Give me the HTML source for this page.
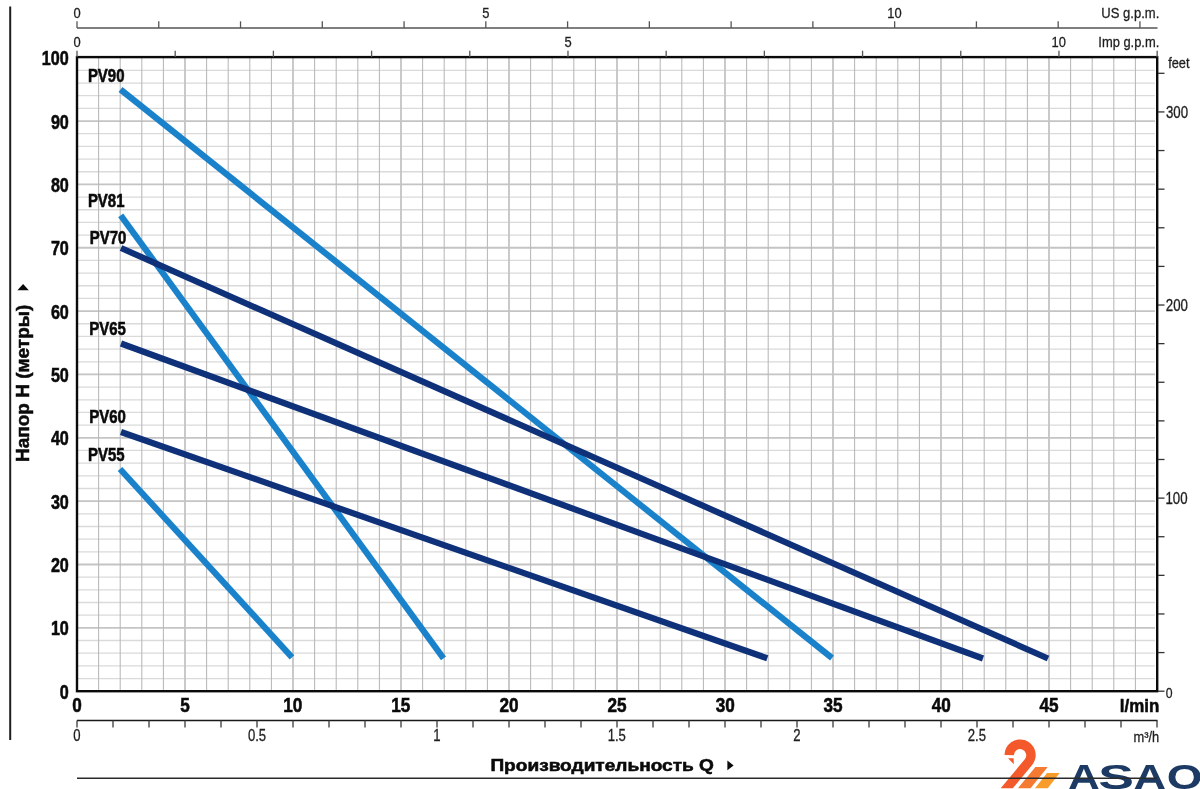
<!DOCTYPE html>
<html><head><meta charset="utf-8"><title>PV pump curves</title>
<style>html,body{margin:0;padding:0;background:#fff;width:1200px;height:789px;overflow:hidden}</style>
</head><body>
<svg width="1200" height="789" viewBox="0 0 1200 789" style="display:block;font-family:'Liberation Sans', 'DejaVu Sans', sans-serif">
<rect width="1200" height="789" fill="#fff"/>
<g><line x1="78" y1="678.53" x2="1155" y2="678.53" stroke="#dadada" stroke-width="1.3"/><line x1="78" y1="665.86" x2="1155" y2="665.86" stroke="#dadada" stroke-width="1.3"/><line x1="78" y1="653.19" x2="1155" y2="653.19" stroke="#dadada" stroke-width="1.3"/><line x1="78" y1="640.52" x2="1155" y2="640.52" stroke="#dadada" stroke-width="1.3"/><line x1="78" y1="627.85" x2="1155" y2="627.85" stroke="#c4c4c4" stroke-width="1.8"/><line x1="78" y1="615.18" x2="1155" y2="615.18" stroke="#dadada" stroke-width="1.3"/><line x1="78" y1="602.51" x2="1155" y2="602.51" stroke="#dadada" stroke-width="1.3"/><line x1="78" y1="589.84" x2="1155" y2="589.84" stroke="#dadada" stroke-width="1.3"/><line x1="78" y1="577.17" x2="1155" y2="577.17" stroke="#dadada" stroke-width="1.3"/><line x1="78" y1="564.5" x2="1155" y2="564.5" stroke="#c4c4c4" stroke-width="1.8"/><line x1="78" y1="551.83" x2="1155" y2="551.83" stroke="#dadada" stroke-width="1.3"/><line x1="78" y1="539.16" x2="1155" y2="539.16" stroke="#dadada" stroke-width="1.3"/><line x1="78" y1="526.49" x2="1155" y2="526.49" stroke="#dadada" stroke-width="1.3"/><line x1="78" y1="513.82" x2="1155" y2="513.82" stroke="#dadada" stroke-width="1.3"/><line x1="78" y1="501.15" x2="1155" y2="501.15" stroke="#c4c4c4" stroke-width="1.8"/><line x1="78" y1="488.48" x2="1155" y2="488.48" stroke="#dadada" stroke-width="1.3"/><line x1="78" y1="475.81" x2="1155" y2="475.81" stroke="#dadada" stroke-width="1.3"/><line x1="78" y1="463.14" x2="1155" y2="463.14" stroke="#dadada" stroke-width="1.3"/><line x1="78" y1="450.47" x2="1155" y2="450.47" stroke="#dadada" stroke-width="1.3"/><line x1="78" y1="437.8" x2="1155" y2="437.8" stroke="#c4c4c4" stroke-width="1.8"/><line x1="78" y1="425.13" x2="1155" y2="425.13" stroke="#dadada" stroke-width="1.3"/><line x1="78" y1="412.46" x2="1155" y2="412.46" stroke="#dadada" stroke-width="1.3"/><line x1="78" y1="399.79" x2="1155" y2="399.79" stroke="#dadada" stroke-width="1.3"/><line x1="78" y1="387.12" x2="1155" y2="387.12" stroke="#dadada" stroke-width="1.3"/><line x1="78" y1="374.45" x2="1155" y2="374.45" stroke="#c4c4c4" stroke-width="1.8"/><line x1="78" y1="361.78" x2="1155" y2="361.78" stroke="#dadada" stroke-width="1.3"/><line x1="78" y1="349.11" x2="1155" y2="349.11" stroke="#dadada" stroke-width="1.3"/><line x1="78" y1="336.44" x2="1155" y2="336.44" stroke="#dadada" stroke-width="1.3"/><line x1="78" y1="323.77" x2="1155" y2="323.77" stroke="#dadada" stroke-width="1.3"/><line x1="78" y1="311.1" x2="1155" y2="311.1" stroke="#c4c4c4" stroke-width="1.8"/><line x1="78" y1="298.43" x2="1155" y2="298.43" stroke="#dadada" stroke-width="1.3"/><line x1="78" y1="285.76" x2="1155" y2="285.76" stroke="#dadada" stroke-width="1.3"/><line x1="78" y1="273.09" x2="1155" y2="273.09" stroke="#dadada" stroke-width="1.3"/><line x1="78" y1="260.42" x2="1155" y2="260.42" stroke="#dadada" stroke-width="1.3"/><line x1="78" y1="247.75" x2="1155" y2="247.75" stroke="#c4c4c4" stroke-width="1.8"/><line x1="78" y1="235.08" x2="1155" y2="235.08" stroke="#dadada" stroke-width="1.3"/><line x1="78" y1="222.41" x2="1155" y2="222.41" stroke="#dadada" stroke-width="1.3"/><line x1="78" y1="209.74" x2="1155" y2="209.74" stroke="#dadada" stroke-width="1.3"/><line x1="78" y1="197.07" x2="1155" y2="197.07" stroke="#dadada" stroke-width="1.3"/><line x1="78" y1="184.4" x2="1155" y2="184.4" stroke="#c4c4c4" stroke-width="1.8"/><line x1="78" y1="171.73" x2="1155" y2="171.73" stroke="#dadada" stroke-width="1.3"/><line x1="78" y1="159.06" x2="1155" y2="159.06" stroke="#dadada" stroke-width="1.3"/><line x1="78" y1="146.39" x2="1155" y2="146.39" stroke="#dadada" stroke-width="1.3"/><line x1="78" y1="133.72" x2="1155" y2="133.72" stroke="#dadada" stroke-width="1.3"/><line x1="78" y1="121.05" x2="1155" y2="121.05" stroke="#c4c4c4" stroke-width="1.8"/><line x1="78" y1="108.38" x2="1155" y2="108.38" stroke="#dadada" stroke-width="1.3"/><line x1="78" y1="95.71" x2="1155" y2="95.71" stroke="#dadada" stroke-width="1.3"/><line x1="78" y1="83.04" x2="1155" y2="83.04" stroke="#dadada" stroke-width="1.3"/><line x1="78" y1="70.37" x2="1155" y2="70.37" stroke="#dadada" stroke-width="1.3"/><line x1="98.6" y1="58" x2="98.6" y2="690" stroke="#b8b8b8" stroke-width="1.05"/><line x1="120.2" y1="58" x2="120.2" y2="690" stroke="#b8b8b8" stroke-width="1.05"/><line x1="141.8" y1="58" x2="141.8" y2="690" stroke="#b8b8b8" stroke-width="1.05"/><line x1="163.4" y1="58" x2="163.4" y2="690" stroke="#b8b8b8" stroke-width="1.05"/><line x1="185" y1="58" x2="185" y2="690" stroke="#c4c4c4" stroke-width="1.8"/><line x1="206.6" y1="58" x2="206.6" y2="690" stroke="#b8b8b8" stroke-width="1.05"/><line x1="228.2" y1="58" x2="228.2" y2="690" stroke="#b8b8b8" stroke-width="1.05"/><line x1="249.8" y1="58" x2="249.8" y2="690" stroke="#b8b8b8" stroke-width="1.05"/><line x1="271.4" y1="58" x2="271.4" y2="690" stroke="#b8b8b8" stroke-width="1.05"/><line x1="293" y1="58" x2="293" y2="690" stroke="#c4c4c4" stroke-width="1.8"/><line x1="314.6" y1="58" x2="314.6" y2="690" stroke="#b8b8b8" stroke-width="1.05"/><line x1="336.2" y1="58" x2="336.2" y2="690" stroke="#b8b8b8" stroke-width="1.05"/><line x1="357.8" y1="58" x2="357.8" y2="690" stroke="#b8b8b8" stroke-width="1.05"/><line x1="379.4" y1="58" x2="379.4" y2="690" stroke="#b8b8b8" stroke-width="1.05"/><line x1="401" y1="58" x2="401" y2="690" stroke="#c4c4c4" stroke-width="1.8"/><line x1="422.6" y1="58" x2="422.6" y2="690" stroke="#b8b8b8" stroke-width="1.05"/><line x1="444.2" y1="58" x2="444.2" y2="690" stroke="#b8b8b8" stroke-width="1.05"/><line x1="465.8" y1="58" x2="465.8" y2="690" stroke="#b8b8b8" stroke-width="1.05"/><line x1="487.4" y1="58" x2="487.4" y2="690" stroke="#b8b8b8" stroke-width="1.05"/><line x1="509" y1="58" x2="509" y2="690" stroke="#c4c4c4" stroke-width="1.8"/><line x1="530.6" y1="58" x2="530.6" y2="690" stroke="#b8b8b8" stroke-width="1.05"/><line x1="552.2" y1="58" x2="552.2" y2="690" stroke="#b8b8b8" stroke-width="1.05"/><line x1="573.8" y1="58" x2="573.8" y2="690" stroke="#b8b8b8" stroke-width="1.05"/><line x1="595.4" y1="58" x2="595.4" y2="690" stroke="#b8b8b8" stroke-width="1.05"/><line x1="617" y1="58" x2="617" y2="690" stroke="#c4c4c4" stroke-width="1.8"/><line x1="638.6" y1="58" x2="638.6" y2="690" stroke="#b8b8b8" stroke-width="1.05"/><line x1="660.2" y1="58" x2="660.2" y2="690" stroke="#b8b8b8" stroke-width="1.05"/><line x1="681.8" y1="58" x2="681.8" y2="690" stroke="#b8b8b8" stroke-width="1.05"/><line x1="703.4" y1="58" x2="703.4" y2="690" stroke="#b8b8b8" stroke-width="1.05"/><line x1="725" y1="58" x2="725" y2="690" stroke="#c4c4c4" stroke-width="1.8"/><line x1="746.6" y1="58" x2="746.6" y2="690" stroke="#b8b8b8" stroke-width="1.05"/><line x1="768.2" y1="58" x2="768.2" y2="690" stroke="#b8b8b8" stroke-width="1.05"/><line x1="789.8" y1="58" x2="789.8" y2="690" stroke="#b8b8b8" stroke-width="1.05"/><line x1="811.4" y1="58" x2="811.4" y2="690" stroke="#b8b8b8" stroke-width="1.05"/><line x1="833" y1="58" x2="833" y2="690" stroke="#c4c4c4" stroke-width="1.8"/><line x1="854.6" y1="58" x2="854.6" y2="690" stroke="#b8b8b8" stroke-width="1.05"/><line x1="876.2" y1="58" x2="876.2" y2="690" stroke="#b8b8b8" stroke-width="1.05"/><line x1="897.8" y1="58" x2="897.8" y2="690" stroke="#b8b8b8" stroke-width="1.05"/><line x1="919.4" y1="58" x2="919.4" y2="690" stroke="#b8b8b8" stroke-width="1.05"/><line x1="941" y1="58" x2="941" y2="690" stroke="#c4c4c4" stroke-width="1.8"/><line x1="962.6" y1="58" x2="962.6" y2="690" stroke="#b8b8b8" stroke-width="1.05"/><line x1="984.2" y1="58" x2="984.2" y2="690" stroke="#b8b8b8" stroke-width="1.05"/><line x1="1005.8" y1="58" x2="1005.8" y2="690" stroke="#b8b8b8" stroke-width="1.05"/><line x1="1027.4" y1="58" x2="1027.4" y2="690" stroke="#b8b8b8" stroke-width="1.05"/><line x1="1049" y1="58" x2="1049" y2="690" stroke="#c4c4c4" stroke-width="1.8"/><line x1="1070.6" y1="58" x2="1070.6" y2="690" stroke="#b8b8b8" stroke-width="1.05"/><line x1="1092.2" y1="58" x2="1092.2" y2="690" stroke="#b8b8b8" stroke-width="1.05"/><line x1="1113.8" y1="58" x2="1113.8" y2="690" stroke="#b8b8b8" stroke-width="1.05"/><line x1="1135.4" y1="58" x2="1135.4" y2="690" stroke="#b8b8b8" stroke-width="1.05"/></g>
<line x1="120.5" y1="89.5" x2="832" y2="658" stroke="#1a82cb" stroke-width="6.2"/>
<line x1="120.7" y1="215.3" x2="443.5" y2="658.3" stroke="#1a82cb" stroke-width="6.2"/>
<line x1="120" y1="469" x2="292" y2="657.3" stroke="#1a82cb" stroke-width="6.2"/>
<line x1="121" y1="248" x2="1048" y2="658.5" stroke="#0e317a" stroke-width="6.2"/>
<line x1="121" y1="343.5" x2="983" y2="658.5" stroke="#0e317a" stroke-width="6.2"/>
<line x1="121" y1="432" x2="767.3" y2="658.3" stroke="#0e317a" stroke-width="6.2"/>
<rect x="77" y="57.1" width="1080.2" height="634.1" fill="none" stroke="#0a0a0a" stroke-width="2.4"/>
<g><line x1="77" y1="28" x2="1157.5" y2="28" stroke="#555" stroke-width="1.4"/><line x1="77" y1="21.3" x2="77" y2="28" stroke="#555" stroke-width="1.3"/><line x1="158.76" y1="21.3" x2="158.76" y2="28" stroke="#555" stroke-width="1.3"/><line x1="240.53" y1="21.3" x2="240.53" y2="28" stroke="#555" stroke-width="1.3"/><line x1="322.29" y1="21.3" x2="322.29" y2="28" stroke="#555" stroke-width="1.3"/><line x1="404.06" y1="21.3" x2="404.06" y2="28" stroke="#555" stroke-width="1.3"/><line x1="485.82" y1="21.3" x2="485.82" y2="28" stroke="#555" stroke-width="1.3"/><line x1="567.59" y1="21.3" x2="567.59" y2="28" stroke="#555" stroke-width="1.3"/><line x1="649.35" y1="21.3" x2="649.35" y2="28" stroke="#555" stroke-width="1.3"/><line x1="731.12" y1="21.3" x2="731.12" y2="28" stroke="#555" stroke-width="1.3"/><line x1="812.88" y1="21.3" x2="812.88" y2="28" stroke="#555" stroke-width="1.3"/><line x1="894.65" y1="21.3" x2="894.65" y2="28" stroke="#555" stroke-width="1.3"/><line x1="976.41" y1="21.3" x2="976.41" y2="28" stroke="#555" stroke-width="1.3"/><line x1="1058.18" y1="21.3" x2="1058.18" y2="28" stroke="#555" stroke-width="1.3"/><line x1="1139.94" y1="21.3" x2="1139.94" y2="28" stroke="#555" stroke-width="1.3"/><line x1="77" y1="50.7" x2="77" y2="57" stroke="#555" stroke-width="1.3"/><line x1="175.2" y1="50.7" x2="175.2" y2="57" stroke="#555" stroke-width="1.3"/><line x1="273.39" y1="50.7" x2="273.39" y2="57" stroke="#555" stroke-width="1.3"/><line x1="371.59" y1="50.7" x2="371.59" y2="57" stroke="#555" stroke-width="1.3"/><line x1="469.78" y1="50.7" x2="469.78" y2="57" stroke="#555" stroke-width="1.3"/><line x1="567.98" y1="50.7" x2="567.98" y2="57" stroke="#555" stroke-width="1.3"/><line x1="666.17" y1="50.7" x2="666.17" y2="57" stroke="#555" stroke-width="1.3"/><line x1="764.37" y1="50.7" x2="764.37" y2="57" stroke="#555" stroke-width="1.3"/><line x1="862.56" y1="50.7" x2="862.56" y2="57" stroke="#555" stroke-width="1.3"/><line x1="960.76" y1="50.7" x2="960.76" y2="57" stroke="#555" stroke-width="1.3"/><line x1="1058.96" y1="50.7" x2="1058.96" y2="57" stroke="#555" stroke-width="1.3"/><line x1="1157.15" y1="50.7" x2="1157.15" y2="57" stroke="#555" stroke-width="1.3"/><line x1="1158" y1="691.2" x2="1164.5" y2="691.2" stroke="#333" stroke-width="1.3"/><line x1="1158" y1="652.58" x2="1164.5" y2="652.58" stroke="#333" stroke-width="1.3"/><line x1="1158" y1="613.96" x2="1164.5" y2="613.96" stroke="#333" stroke-width="1.3"/><line x1="1158" y1="575.35" x2="1164.5" y2="575.35" stroke="#333" stroke-width="1.3"/><line x1="1158" y1="536.73" x2="1164.5" y2="536.73" stroke="#333" stroke-width="1.3"/><line x1="1158" y1="498.11" x2="1164.5" y2="498.11" stroke="#333" stroke-width="1.3"/><line x1="1158" y1="459.49" x2="1164.5" y2="459.49" stroke="#333" stroke-width="1.3"/><line x1="1158" y1="420.87" x2="1164.5" y2="420.87" stroke="#333" stroke-width="1.3"/><line x1="1158" y1="382.25" x2="1164.5" y2="382.25" stroke="#333" stroke-width="1.3"/><line x1="1158" y1="343.64" x2="1164.5" y2="343.64" stroke="#333" stroke-width="1.3"/><line x1="1158" y1="305.02" x2="1164.5" y2="305.02" stroke="#333" stroke-width="1.3"/><line x1="1158" y1="266.4" x2="1164.5" y2="266.4" stroke="#333" stroke-width="1.3"/><line x1="1158" y1="227.78" x2="1164.5" y2="227.78" stroke="#333" stroke-width="1.3"/><line x1="1158" y1="189.16" x2="1164.5" y2="189.16" stroke="#333" stroke-width="1.3"/><line x1="1158" y1="150.55" x2="1164.5" y2="150.55" stroke="#333" stroke-width="1.3"/><line x1="1158" y1="111.93" x2="1164.5" y2="111.93" stroke="#333" stroke-width="1.3"/><line x1="1158" y1="73.31" x2="1164.5" y2="73.31" stroke="#333" stroke-width="1.3"/><line x1="77" y1="720.5" x2="1157.5" y2="720.5" stroke="#1a1a1a" stroke-width="1.4"/><line x1="77" y1="720.5" x2="77" y2="727.5" stroke="#3a3a3a" stroke-width="1.3"/><line x1="113" y1="720.5" x2="113" y2="727.5" stroke="#3a3a3a" stroke-width="1.3"/><line x1="149" y1="720.5" x2="149" y2="727.5" stroke="#3a3a3a" stroke-width="1.3"/><line x1="185" y1="720.5" x2="185" y2="727.5" stroke="#3a3a3a" stroke-width="1.3"/><line x1="221" y1="720.5" x2="221" y2="727.5" stroke="#3a3a3a" stroke-width="1.3"/><line x1="257" y1="720.5" x2="257" y2="727.5" stroke="#3a3a3a" stroke-width="1.3"/><line x1="293" y1="720.5" x2="293" y2="727.5" stroke="#3a3a3a" stroke-width="1.3"/><line x1="329" y1="720.5" x2="329" y2="727.5" stroke="#3a3a3a" stroke-width="1.3"/><line x1="365" y1="720.5" x2="365" y2="727.5" stroke="#3a3a3a" stroke-width="1.3"/><line x1="401" y1="720.5" x2="401" y2="727.5" stroke="#3a3a3a" stroke-width="1.3"/><line x1="437" y1="720.5" x2="437" y2="727.5" stroke="#3a3a3a" stroke-width="1.3"/><line x1="473" y1="720.5" x2="473" y2="727.5" stroke="#3a3a3a" stroke-width="1.3"/><line x1="509" y1="720.5" x2="509" y2="727.5" stroke="#3a3a3a" stroke-width="1.3"/><line x1="545" y1="720.5" x2="545" y2="727.5" stroke="#3a3a3a" stroke-width="1.3"/><line x1="581" y1="720.5" x2="581" y2="727.5" stroke="#3a3a3a" stroke-width="1.3"/><line x1="617" y1="720.5" x2="617" y2="727.5" stroke="#3a3a3a" stroke-width="1.3"/><line x1="653" y1="720.5" x2="653" y2="727.5" stroke="#3a3a3a" stroke-width="1.3"/><line x1="689" y1="720.5" x2="689" y2="727.5" stroke="#3a3a3a" stroke-width="1.3"/><line x1="725" y1="720.5" x2="725" y2="727.5" stroke="#3a3a3a" stroke-width="1.3"/><line x1="761" y1="720.5" x2="761" y2="727.5" stroke="#3a3a3a" stroke-width="1.3"/><line x1="797" y1="720.5" x2="797" y2="727.5" stroke="#3a3a3a" stroke-width="1.3"/><line x1="833" y1="720.5" x2="833" y2="727.5" stroke="#3a3a3a" stroke-width="1.3"/><line x1="869" y1="720.5" x2="869" y2="727.5" stroke="#3a3a3a" stroke-width="1.3"/><line x1="905" y1="720.5" x2="905" y2="727.5" stroke="#3a3a3a" stroke-width="1.3"/><line x1="941" y1="720.5" x2="941" y2="727.5" stroke="#3a3a3a" stroke-width="1.3"/><line x1="977" y1="720.5" x2="977" y2="727.5" stroke="#3a3a3a" stroke-width="1.3"/><line x1="1013" y1="720.5" x2="1013" y2="727.5" stroke="#3a3a3a" stroke-width="1.3"/><line x1="1049" y1="720.5" x2="1049" y2="727.5" stroke="#3a3a3a" stroke-width="1.3"/><line x1="1085" y1="720.5" x2="1085" y2="727.5" stroke="#3a3a3a" stroke-width="1.3"/><line x1="1121" y1="720.5" x2="1121" y2="727.5" stroke="#3a3a3a" stroke-width="1.3"/><line x1="1157" y1="720.5" x2="1157" y2="727.5" stroke="#3a3a3a" stroke-width="1.3"/><line x1="10.2" y1="6.6" x2="10.2" y2="740" stroke="#1e1e1e" stroke-width="2"/></g>
<text transform="translate(73.4,17.8) scale(0.85,1)" font-size="15.2" font-weight="normal" fill="#1e1e1e" stroke="#1e1e1e" stroke-width="0.3">0</text>
<text transform="translate(73.4,46.8) scale(0.85,1)" font-size="15.2" font-weight="normal" fill="#1e1e1e" stroke="#1e1e1e" stroke-width="0.3">0</text>
<text transform="translate(482.24,17.8) scale(0.85,1)" font-size="15.2" font-weight="normal" fill="#1e1e1e" stroke="#1e1e1e" stroke-width="0.3">5</text>
<text transform="translate(564.39,46.8) scale(0.85,1)" font-size="15.2" font-weight="normal" fill="#1e1e1e" stroke="#1e1e1e" stroke-width="0.3">5</text>
<text transform="translate(887.24,17.8) scale(0.85,1)" font-size="15.2" font-weight="normal" fill="#1e1e1e" stroke="#1e1e1e" stroke-width="0.3">10</text>
<text transform="translate(1051.54,46.8) scale(0.85,1)" font-size="15.2" font-weight="normal" fill="#1e1e1e" stroke="#1e1e1e" stroke-width="0.3">10</text>
<text transform="translate(1101.29,17.71) scale(0.85,1)" font-size="15.36" font-weight="normal" fill="#1e1e1e" stroke="#1e1e1e" stroke-width="0.3">US g.p.m.</text>
<text transform="translate(1098.31,47.05) scale(0.85,1)" font-size="15.2" font-weight="normal" fill="#1e1e1e" stroke="#1e1e1e" stroke-width="0.3">Imp g.p.m.</text>
<text transform="translate(1165.5,503.81) scale(0.84,1)" font-size="15.8" font-weight="normal" fill="#1e1e1e" stroke="#1e1e1e" stroke-width="0.3">100</text>
<text transform="translate(1165.84,310.72) scale(0.84,1)" font-size="15.8" font-weight="normal" fill="#1e1e1e" stroke="#1e1e1e" stroke-width="0.3">200</text>
<text transform="translate(1166,117.63) scale(0.84,1)" font-size="15.8" font-weight="normal" fill="#1e1e1e" stroke="#1e1e1e" stroke-width="0.3">300</text>
<text transform="translate(1165.81,697.5) scale(0.8,1)" font-size="15.3" font-weight="normal" fill="#1e1e1e" stroke="#1e1e1e" stroke-width="0.3">0</text>
<text transform="translate(1168.21,67.85) scale(0.86,1)" font-size="14.88" font-weight="normal" fill="#1e1e1e" stroke="#1e1e1e" stroke-width="0.3">feet</text>
<text transform="translate(59.86,698.7) scale(0.83,1)" font-size="19.5" font-weight="bold" fill="#0a0a0a" stroke="#0a0a0a" stroke-width="0.55">0</text>
<text transform="translate(50.88,635.35) scale(0.83,1)" font-size="19.5" font-weight="bold" fill="#0a0a0a" stroke="#0a0a0a" stroke-width="0.55">10</text>
<text transform="translate(50.88,572) scale(0.83,1)" font-size="19.5" font-weight="bold" fill="#0a0a0a" stroke="#0a0a0a" stroke-width="0.55">20</text>
<text transform="translate(50.88,508.65) scale(0.83,1)" font-size="19.5" font-weight="bold" fill="#0a0a0a" stroke="#0a0a0a" stroke-width="0.55">30</text>
<text transform="translate(50.88,445.3) scale(0.83,1)" font-size="19.5" font-weight="bold" fill="#0a0a0a" stroke="#0a0a0a" stroke-width="0.55">40</text>
<text transform="translate(50.88,381.95) scale(0.83,1)" font-size="19.5" font-weight="bold" fill="#0a0a0a" stroke="#0a0a0a" stroke-width="0.55">50</text>
<text transform="translate(50.88,318.6) scale(0.83,1)" font-size="19.5" font-weight="bold" fill="#0a0a0a" stroke="#0a0a0a" stroke-width="0.55">60</text>
<text transform="translate(50.88,255.25) scale(0.83,1)" font-size="19.5" font-weight="bold" fill="#0a0a0a" stroke="#0a0a0a" stroke-width="0.55">70</text>
<text transform="translate(50.88,191.9) scale(0.83,1)" font-size="19.5" font-weight="bold" fill="#0a0a0a" stroke="#0a0a0a" stroke-width="0.55">80</text>
<text transform="translate(50.88,128.55) scale(0.83,1)" font-size="19.5" font-weight="bold" fill="#0a0a0a" stroke="#0a0a0a" stroke-width="0.55">90</text>
<text transform="translate(41.86,65.2) scale(0.83,1)" font-size="19.5" font-weight="bold" fill="#0a0a0a" stroke="#0a0a0a" stroke-width="0.55">100</text>
<text transform="translate(72.24,712.3) scale(0.88,1)" font-size="19.5" font-weight="bold" fill="#0a0a0a" stroke="#0a0a0a" stroke-width="0.55">0</text>
<text transform="translate(180.22,712.3) scale(0.88,1)" font-size="19.5" font-weight="bold" fill="#0a0a0a" stroke="#0a0a0a" stroke-width="0.55">5</text>
<text transform="translate(283.28,712.3) scale(0.88,1)" font-size="19.5" font-weight="bold" fill="#0a0a0a" stroke="#0a0a0a" stroke-width="0.55">10</text>
<text transform="translate(391.18,712.3) scale(0.88,1)" font-size="19.5" font-weight="bold" fill="#0a0a0a" stroke="#0a0a0a" stroke-width="0.55">15</text>
<text transform="translate(499.52,712.3) scale(0.88,1)" font-size="19.5" font-weight="bold" fill="#0a0a0a" stroke="#0a0a0a" stroke-width="0.55">20</text>
<text transform="translate(607.41,712.3) scale(0.88,1)" font-size="19.5" font-weight="bold" fill="#0a0a0a" stroke="#0a0a0a" stroke-width="0.55">25</text>
<text transform="translate(715.63,712.3) scale(0.88,1)" font-size="19.5" font-weight="bold" fill="#0a0a0a" stroke="#0a0a0a" stroke-width="0.55">30</text>
<text transform="translate(823.52,712.3) scale(0.88,1)" font-size="19.5" font-weight="bold" fill="#0a0a0a" stroke="#0a0a0a" stroke-width="0.55">35</text>
<text transform="translate(931.69,712.3) scale(0.88,1)" font-size="19.5" font-weight="bold" fill="#0a0a0a" stroke="#0a0a0a" stroke-width="0.55">40</text>
<text transform="translate(1039.58,712.3) scale(0.88,1)" font-size="19.5" font-weight="bold" fill="#0a0a0a" stroke="#0a0a0a" stroke-width="0.55">45</text>
<text transform="translate(1119.81,712.37) scale(0.9,1)" font-size="18.79" font-weight="bold" fill="#0a0a0a" stroke="#0a0a0a" stroke-width="0.55">l/min</text>
<text transform="translate(73.34,740.6) scale(0.82,1)" font-size="16" font-weight="normal" fill="#1e1e1e" stroke="#1e1e1e" stroke-width="0.3">0</text>
<text transform="translate(247.88,740.6) scale(0.82,1)" font-size="16" font-weight="normal" fill="#1e1e1e" stroke="#1e1e1e" stroke-width="0.3">0.5</text>
<text transform="translate(433.18,740.6) scale(0.82,1)" font-size="16" font-weight="normal" fill="#1e1e1e" stroke="#1e1e1e" stroke-width="0.3">1</text>
<text transform="translate(607.65,740.6) scale(0.82,1)" font-size="16" font-weight="normal" fill="#1e1e1e" stroke="#1e1e1e" stroke-width="0.3">1.5</text>
<text transform="translate(793.36,740.6) scale(0.82,1)" font-size="16" font-weight="normal" fill="#1e1e1e" stroke="#1e1e1e" stroke-width="0.3">2</text>
<text transform="translate(967.82,740.6) scale(0.82,1)" font-size="16" font-weight="normal" fill="#1e1e1e" stroke="#1e1e1e" stroke-width="0.3">2.5</text>
<text transform="translate(1133.5,741.6) scale(0.86,1)" font-size="15" stroke="#1e1e1e" stroke-width="0.3" fill="#1e1e1e">m³/h</text>
<text transform="translate(87.89,81.7) scale(0.85,1)" font-size="17.6" font-weight="bold" fill="#0a0a0a" stroke="#0a0a0a" stroke-width="0.55">PV90</text>
<text transform="translate(87.89,206.8) scale(0.85,1)" font-size="17.6" font-weight="bold" fill="#0a0a0a" stroke="#0a0a0a" stroke-width="0.55">PV81</text>
<text transform="translate(89.79,244.4) scale(0.85,1)" font-size="17.6" font-weight="bold" fill="#0a0a0a" stroke="#0a0a0a" stroke-width="0.55">PV70</text>
<text transform="translate(89.29,335.1) scale(0.85,1)" font-size="17.6" font-weight="bold" fill="#0a0a0a" stroke="#0a0a0a" stroke-width="0.55">PV65</text>
<text transform="translate(89.29,423) scale(0.85,1)" font-size="17.6" font-weight="bold" fill="#0a0a0a" stroke="#0a0a0a" stroke-width="0.55">PV60</text>
<text transform="translate(88.09,460.7) scale(0.85,1)" font-size="17.6" font-weight="bold" fill="#0a0a0a" stroke="#0a0a0a" stroke-width="0.55">PV55</text>
<text transform="translate(29,462.08) rotate(-90) scale(1,1)" font-size="19.0" font-weight="bold" fill="#0a0a0a" stroke="#0a0a0a" stroke-width="0.5">Напор H (метры)</text>
<path d="M23.1,283.9 L28.8,290.2 L17.4,290.2 Z" fill="#0a0a0a"/>
<text transform="translate(490.41,770.78) scale(1.16,1)" font-size="16.46" font-weight="bold" fill="#0a0a0a" stroke="#0a0a0a" stroke-width="0.55">Производительность Q</text>
<path d="M727.4,760.5 L733.6,765.4 L727.4,770.2 Z" fill="#0a0a0a"/>
<g>
<path d="M1004.5,755 A15.6,15.6 0 1 1 1032.1,764.95 L1012.8,788.3 L1000.7,788.3 L1024.8,759.2 A6.2,6.2 0 1 0 1013.8,755.2 Z" fill="#f4592b"/>
<path d="M1008,758.3 L1013.6,758.3 L1013.8,764.2 Z" fill="#f4592b"/>
<path d="M1035.4,767 L1047.7,767 L1030.6,788.3 L1017.9,788.3 Z" fill="#f67b32"/>
<path d="M1047,773 L1059.7,773 L1047.7,788.3 L1035,788.3 Z" fill="#f89c2c"/>
<text y="788.5" font-size="35.6" font-weight="bold" fill="#1c3a63"><tspan x="1067.9" textLength="31.8" lengthAdjust="spacingAndGlyphs">A</tspan><tspan x="1098.39" textLength="35.72" lengthAdjust="spacingAndGlyphs">S</tspan><tspan x="1133.57" textLength="32.66" lengthAdjust="spacingAndGlyphs">A</tspan><tspan x="1166.66" textLength="35.81" lengthAdjust="spacingAndGlyphs">O</tspan></text>
</g>
<line x1="77" y1="778.3" x2="1157" y2="778.3" stroke="#2a2a2a" stroke-width="1.4"/>
</svg>
</body></html>
